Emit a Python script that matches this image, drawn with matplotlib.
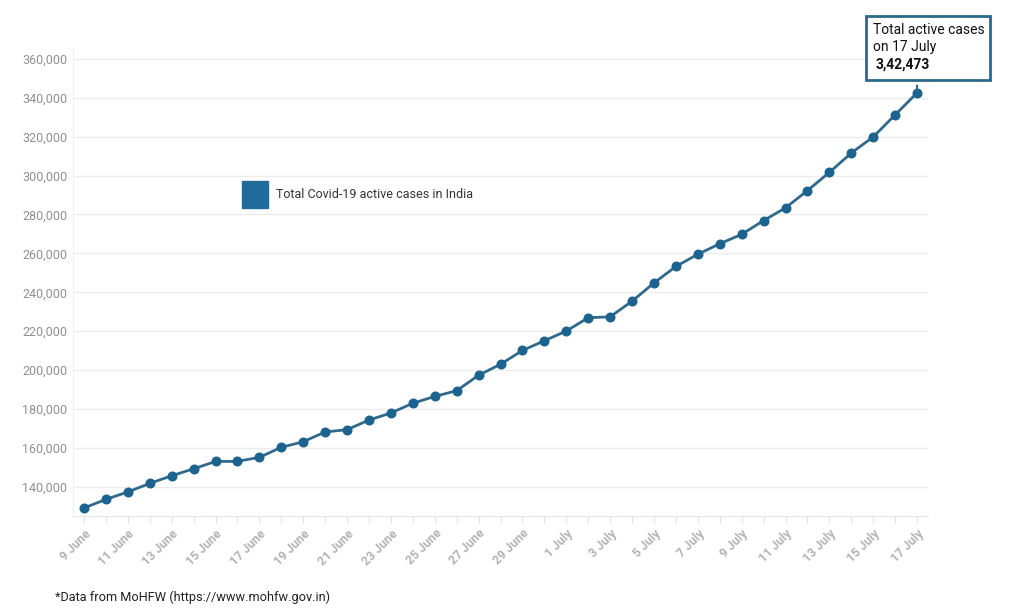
import matplotlib
matplotlib.use("Agg")
import matplotlib.pyplot as plt
from matplotlib.patches import Rectangle

dates = ["9 June", "10 June", "11 June", "12 June", "13 June", "14 June", "15 June",
         "16 June", "17 June", "18 June", "19 June", "20 June", "21 June", "22 June",
         "23 June", "24 June", "25 June", "26 June", "27 June", "28 June", "29 June",
         "30 June", "1 July", "2 July", "3 July", "4 July", "5 July", "6 July",
         "7 July", "8 July", "9 July", "10 July", "11 July", "12 July", "13 July",
         "14 July", "15 July", "16 July", "17 July"]
active_cases = [129215, 133632, 137448, 141842, 145779, 149348, 153106,
                153178, 155227, 160384, 163248, 168269, 169451, 174387,
                178014, 183022, 186514, 189463, 197387, 203051, 210120,
                215125, 220114, 226947, 227439, 235433, 244814, 253287,
                259557, 264944, 269789, 276882, 283407, 292258, 301609,
                311565, 319840, 331146, 342473]
y_ticks = [140000, 160000, 180000, 200000, 220000, 240000, 260000,
           280000, 300000, 320000, 340000, 360000]
series_label = "Total Covid-19 active cases in India"
note_lines = ["Total active cases", "on 17 July", "3,42,473"]
footer = "*Data from MoHFW (https://www.mohfw.gov.in)"

plt.rcParams['font.family'] = ['Roboto', 'DejaVu Sans']

fig = plt.figure(figsize=(10.24, 6.10), dpi=100)
ax = fig.add_axes([73/1024, 1 - 516/610, (928-73)/1024, (516-49)/610])

x = list(range(len(dates)))
ax.plot(x, active_cases, color="#2f6a8c", lw=2, marker="o", ms=6.2,
        mfc="#1d6390", mec="#1d6390", zorder=3)

ax.set_xlim(-0.5, len(dates) - 0.5)
ax.set_ylim(125100, 365000)
ax.set_yticks(y_ticks)
ax.set_yticklabels([f"{v:,}" for v in y_ticks], color="#909090", fontsize=9)
ax.yaxis.grid(True, color="#ececec", lw=1)
ax.tick_params(axis="y", length=0, pad=4)

ax.set_xticks(x)
ax.set_xticklabels([d if i % 2 == 0 else "" for i, d in enumerate(dates)],
                   rotation=45, ha="right", rotation_mode="anchor",
                   color="#b3b3b3", fontsize=8.8, fontweight="bold")
ax.tick_params(axis="x", length=5, color="#e3e3e3", pad=3)

for s in ["top", "right"]:
    ax.spines[s].set_visible(False)
ax.spines["left"].set_color("#eeeeee")
ax.spines["bottom"].set_color("#e6e6e6")
ax.set_axisbelow(True)

# legend
fig.patches.append(Rectangle((242/1024, 1 - 208/610), 26/1024, 27/610,
                             transform=fig.transFigure, color="#1f6b9a"))
fig.text(276/1024, 1 - 194.5/610, series_label, fontsize=9, color="#333333",
         va="center", ha="left")

# annotation
last_x = x[-1]
last_y = active_cases[-1]
ax.annotate("", xy=(last_x, last_y), xytext=(last_x, last_y + 5200),
            arrowprops=dict(arrowstyle="-", color="#2a6a8a", lw=1.5),
            annotation_clip=False)
fig.patches.append(Rectangle((866/1024, 1 - 80/610), 124/1024, 64/610,
                             transform=fig.transFigure, fill=True, fc="white",
                             ec="#2a6a8a", lw=2))
fig.text(873/1024, 1 - 30/610, note_lines[0], fontsize=10, color="#111111", va="center")
fig.text(873/1024, 1 - 47.5/610, note_lines[1], fontsize=10, color="#111111", va="center")
fig.text(876/1024, 1 - 65/610, note_lines[2], fontsize=10, color="#111111",
         va="center", fontweight="bold")

fig.text(55/1024, 1 - 597/610, footer, fontsize=9.2, color="#222222", va="center")

fig.savefig("out.png", dpi=100, facecolor="white")
